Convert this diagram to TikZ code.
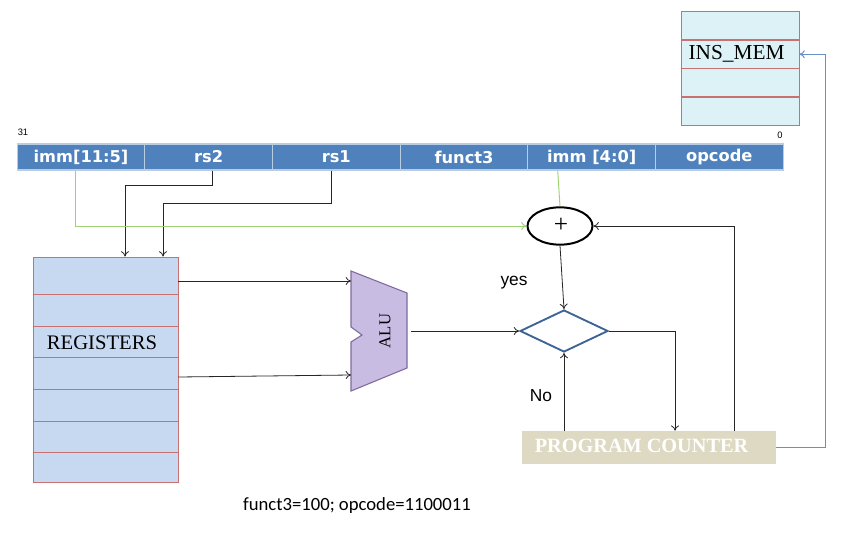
\documentclass[tikz,border=0pt]{standalone}
\usepackage{fontspec}
\setmainfont{Liberation Serif}
\newfontfamily\fieldfont{DejaVu Sans}
\newfontfamily\armfont{Liberation Sans}
\newfontfamily\calfont{Carlito}
\usetikzlibrary{shapes.geometric,arrows.meta}
\definecolor{fieldblue}{HTML}{4F81BD}
\definecolor{fieldline}{HTML}{B8CCE4}
\definecolor{regfill}{HTML}{C6D9F1}
\definecolor{regline}{HTML}{C97070}
\definecolor{insfill}{HTML}{DDF2F7}
\definecolor{alufill}{HTML}{C9BCE2}
\definecolor{aluline}{HTML}{7F6A9E}
\definecolor{pcfill}{HTML}{DDD9C3}
\definecolor{dialine}{HTML}{3C6496}
\definecolor{greenline}{HTML}{9ED16F}
\definecolor{blueline}{HTML}{6A8FC7}
\tikzset{
  field/.style={rectangle, fill=fieldblue, draw=fieldline, line width=0.8pt, minimum width=95.75pt, minimum height=19.5pt, inner sep=0pt, text=white, font=\fieldfont\bfseries\fontsize{12.2}{14}\selectfont},
  regrow/.style={rectangle, fill=regfill, draw=regline, line width=0.7pt, minimum width=108.75pt, inner sep=0pt},
  insrow/.style={rectangle, fill=insfill, draw=regline, line width=0.7pt, minimum width=88.5pt, minimum height=21.4pt, inner sep=0pt},
  arr/.style={-{To[length=4pt,width=6pt]}, line width=0.6pt, black!85},
  lbl/.style={font=\armfont\fontsize{13}{15}\selectfont, inner sep=0pt}
}
\begin{document}
\begin{tikzpicture}[x=0.75pt,y=-0.75pt]
\useasboundingbox[fill=white] (0,0) rectangle (866,549);

% instruction memory
\foreach \t [count=\i] in {11,40,68,97}
  \node[insrow] (ins\i) at (740,{\t+14.25}) {};
\node[font=\fontsize{16}{18}\selectfont, inner sep=0pt] (inslbl) at (736.5,54) {INS\_MEM};

% instruction fields
\node[font=\armfont\fontsize{7}{8}\selectfont] (b31) at (23,132) {31};
\node[font=\armfont\fontsize{7}{8}\selectfont] (b0) at (780,135) {0};
\node[field] (f1) at (81,157) {imm[11:5]};
\node[field] (f2) at (208.7,157) {rs2};
\node[field] (f3) at (336.3,157) {rs1};
\node[field] (f4) at (464,157) {funct3};
\node[field] (f5) at (591.7,157) {imm [4:0]};
\node[field] (f6) at (719.3,157) {opcode};

% registers
\foreach \t/\b [count=\i] in {257/294,294/326,326/357,357/389,389/421,421/452,452/482}
  \node[regrow, minimum height={(\b-\t)*0.75pt}] (reg\i) at (105.5,{(\t+\b)/2}) {};
\node[font=\fontsize{15.5}{17}\selectfont, inner sep=0pt] (reglbl) at (102,343) {REGISTERS};

% ALU
\draw[fill=alufill, draw=aluline, line width=0.8pt] (351,271) -- (407,293) -- (407,368) -- (351,391) -- (351,342) -- (362,335) -- (351,327) -- cycle;
\node[rotate=90, font=\fontsize{12.5}{14}\selectfont, inner sep=0pt] (alu) at (385,331) {ALU};
\coordinate (aluin1) at (351,281);
\coordinate (aluin2) at (351,375);
\coordinate (aluout) at (411,331);

% adder
\node[ellipse, draw=black, line width=1.5pt, fill=white, minimum width=48.75pt, minimum height=28pt, inner sep=0pt] (adder) at (560,226) {};
\node[font=\fontsize{19}{19}\selectfont\mdseries, inner sep=0pt] (plus) at (561,225) {+};

% decision
\node[diamond, draw=dialine, line width=1.4pt, fill=white, minimum width=66pt, minimum height=31.5pt, inner sep=0pt] (dia) at (564,331) {};

% program counter
\node[rectangle, fill=pcfill, minimum width=190.5pt, minimum height=24.75pt, inner sep=0pt] (pc) at (649,447.5) {};
\node[text=white, font=\bfseries\fontsize{15.2}{17}\selectfont, inner sep=0pt] (pclbl) at (641.5,445.5) {PROGRAM COUNTER};

% labels
\node[lbl] (yes) at (514,283) {yes};
\node[lbl] (no) at (541,396) {No};
\node[font=\calfont\fontsize{14}{16}\selectfont, inner sep=0pt] (note) at (357,506) {funct3=100; opcode=1100011};

% connectors
\draw[arr] ([xshift=3pt]f2.south) -- ++(0,15) -| ([xshift=14.6pt]reg1.north);
\draw[arr] ([xshift=-3.75pt]f3.south) -- ++(0,33) -| ([xshift=43.1pt]reg1.north);
\draw[-{To[length=4pt,width=6pt]}, line width=0.7pt, greenline] ([xshift=-4.5pt]f1.south) |- (adder.west);
\draw[line width=0.7pt, greenline] ([xshift=-25.5pt]f5.south) -- (adder.north);
\draw[arr] (aluin1 -| reg1.east) -- (aluin1);
\draw[arr] ([yshift=-3pt]reg4.east) -- (aluin2);
\draw[arr] (aluout) -- (dia.west);
\draw[arr] (adder.south) -- (dia.north);
\draw[arr] (dia.east) -| ([xshift=19.5pt]pc.north);
\draw[arr] (pc.north -| dia.south) -- (dia.south);
\draw[arr] ([xshift=63.75pt]pc.north) |- (adder.east);
\draw[-{To[length=4pt,width=6pt]}, line width=0.8pt, blueline] (pc.east) -- ++(49,0) |- (ins2.east);
\end{tikzpicture}
\end{document}
